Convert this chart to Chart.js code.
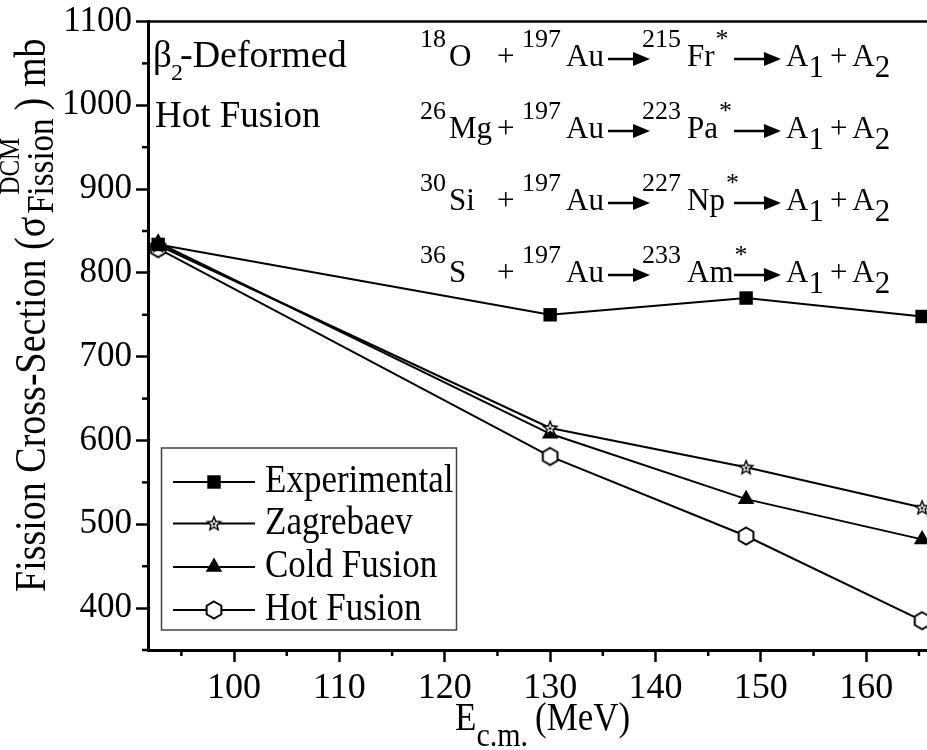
<!DOCTYPE html>
<html>
<head>
<meta charset="utf-8">
<script src="https://cdn.jsdelivr.net/npm/chart.js@4.4.0/dist/chart.umd.min.js"></script>
<style>
  html, body { margin: 0; padding: 0; background: #fff; overflow: hidden; }
  #wrap { width: 960px; height: 750px; position: relative; }
</style>
</head>
<body>
<div id="wrap"><canvas id="c" width="960" height="750"></canvas></div>
<script>
// Centre-of-mass energies (MeV) and fission cross-sections (mb)
const energies     = [92.8, 130.0, 148.6, 165.3];
const experimental = [834, 750, 770, 748];
const zagrebaev    = [833, 615, 568, 520];
const coldFusion   = [836, 608, 530, 482];
const hotFusion    = [829, 581, 486, 385];
const seriesNames  = ['Experimental', 'Zagrebaev', 'Cold Fusion', 'Hot Fusion'];

// Axis ticks
const xTicks      = [100, 110, 120, 130, 140, 150, 160];
const xMinorTicks = [95, 105, 115, 125, 135, 145, 155, 165];
const yTicks      = [400, 500, 600, 700, 800, 900, 1000, 1100];
const yMinorTicks = [350, 450, 550, 650, 750, 850, 950, 1050];

// Reaction labels
const projMass  = ['18', '26', '30', '36'];
const projElem  = ['O', 'Mg', 'Si', 'S'];
const cnMass    = ['215', '223', '227', '233'];
const cnElem    = ['Fr', 'Pa', 'Np', 'Am'];

const FONT = '"Liberation Serif", "Times New Roman", serif';

// ---- custom marker images ----
function makeStar() {
  const s = 20, c = document.createElement('canvas');
  c.width = s; c.height = s;
  const g = c.getContext('2d');
  function star(R, r, fill) {
    g.beginPath();
    for (let i = 0; i < 10; i++) {
      const a = -Math.PI / 2 + i * Math.PI / 5;
      const rad = i % 2 === 0 ? R : r;
      const px = s / 2 + rad * Math.cos(a), py = s / 2 + 0.5 + rad * Math.sin(a);
      i === 0 ? g.moveTo(px, py) : g.lineTo(px, py);
    }
    g.closePath();
    g.fillStyle = fill; g.fill();
  }
  star(9, 4, '#000');
  star(5.2, 2.3, '#fff');
  star(2.2, 1.0, '#000');
  return c;
}
function makeHex() {
  const s = 22, c = document.createElement('canvas');
  c.width = s; c.height = s;
  const g = c.getContext('2d');
  g.beginPath();
  for (let i = 0; i < 6; i++) {
    const a = -Math.PI / 2 + i * Math.PI / 3;
    const px = s / 2 + 8.5 * Math.cos(a), py = s / 2 + 8.5 * Math.sin(a);
    i === 0 ? g.moveTo(px, py) : g.lineTo(px, py);
  }
  g.closePath();
  g.fillStyle = '#fff'; g.fill();
  g.lineWidth = 2; g.strokeStyle = '#000'; g.stroke();
  return c;
}
const starImg = makeStar();
const hexImg = makeHex();

function series(label, values, style, radius) {
  return {
    label,
    data: energies.map((x, i) => ({ x, y: values[i] })),
    borderColor: '#000',
    borderWidth: 2,
    backgroundColor: '#000',
    pointBackgroundColor: '#000',
    pointBorderColor: '#000',
    pointBorderWidth: 0,
    pointStyle: style,
    pointRadius: radius,
    pointHoverRadius: radius,
    tension: 0,
    clip: false
  };
}

const datasets = [
  series(seriesNames[0], experimental, 'rect', 9.5),
  series(seriesNames[1], zagrebaev, starImg, 9),
  series(seriesNames[2], coldFusion, 'triangle', 9.5),
  series(seriesNames[3], hotFusion, hexImg, 9)
];

function drawText(ctx, s, x, y, size, sy) {
  ctx.save();
  ctx.font = size + 'px ' + FONT;
  ctx.textAlign = 'left';
  ctx.textBaseline = 'alphabetic';
  ctx.translate(x, y);
  ctx.scale(1, sy || 1);
  ctx.fillText(s, 0, 0);
  ctx.restore();
  ctx.font = size + 'px ' + FONT;
  return ctx.measureText(s).width;
}

function arrow(ctx, x0, x1, y) {
  ctx.save();
  ctx.strokeStyle = '#000'; ctx.fillStyle = '#000';
  ctx.lineWidth = 2.5;
  ctx.beginPath(); ctx.moveTo(x0, y); ctx.lineTo(x1 - 12, y); ctx.stroke();
  ctx.beginPath();
  ctx.moveTo(x1, y); ctx.lineTo(x1 - 17, y - 7); ctx.lineTo(x1 - 17, y + 7);
  ctx.closePath(); ctx.fill();
  ctx.restore();
}

function drawMarker(ctx, ds, x, y) {
  const st = ds.pointStyle, r = ds.pointRadius;
  ctx.save();
  ctx.fillStyle = '#000';
  if (st === 'rect') {
    const h = Math.SQRT1_2 * r;
    ctx.fillRect(x - h, y - h, 2 * h, 2 * h);
  } else if (st === 'triangle') {
    ctx.beginPath();
    for (let i = 0; i < 3; i++) {
      const a = -Math.PI / 2 + i * 2 * Math.PI / 3;
      const px = x + r * Math.cos(a), py = y + r * Math.sin(a);
      i === 0 ? ctx.moveTo(px, py) : ctx.lineTo(px, py);
    }
    ctx.closePath(); ctx.fill();
  } else {
    ctx.drawImage(st, x - st.width / 2, y - st.height / 2);
  }
  ctx.restore();
}

const extras = {
  id: 'extras',
  afterDraw(chart) {
    const ctx = chart.ctx;
    const xs = chart.scales.x, ys = chart.scales.y;
    const area = chart.chartArea;
    ctx.save();
    ctx.strokeStyle = '#000';
    ctx.lineWidth = 2.5;
    // top frame line
    ctx.beginPath(); ctx.moveTo(area.left, area.top); ctx.lineTo(area.right, area.top); ctx.stroke();
    // minor ticks
    yMinorTicks.forEach(v => {
      const py = ys.getPixelForValue(v);
      ctx.beginPath(); ctx.moveTo(area.left - 6, py); ctx.lineTo(area.left, py); ctx.stroke();
    });
    xMinorTicks.forEach(v => {
      const px = xs.getPixelForValue(v);
      ctx.beginPath(); ctx.moveTo(px, area.bottom); ctx.lineTo(px, area.bottom + 6); ctx.stroke();
    });
    ctx.restore();

    ctx.fillStyle = '#000';
    const SY = 1.15;

    // y-axis title (rotated)
    ctx.save();
    ctx.translate(45, 592);
    ctx.rotate(-Math.PI / 2);
    let p = 0;
    p += drawText(ctx, 'Fission Cross-Section (', p, 0, 38, SY);
    p += drawText(ctx, '\u03C3', p, 0, 38, SY);
    ctx.font = '33px ' + FONT;
    const wSub = ctx.measureText('Fission').width;
    ctx.font = '25px ' + FONT;
    const wSup = ctx.measureText('DCM').width;
    drawText(ctx, 'Fission', p + 3, 8, 33, SY);
    drawText(ctx, 'DCM', p + 3 + (wSub - wSup) / 2, -26, 25, SY);
    p += 3 + wSub + 8;
    drawText(ctx, ')', p, 0, 38, SY);
    drawText(ctx, 'mb', 505, 0, 38, SY);
    ctx.restore();

    // x-axis title
    let q = 455;
    q += drawText(ctx, 'E', q, 730, 35, SY);
    q += drawText(ctx, 'c.m.', q, 746, 30, SY);
    q += 7;
    drawText(ctx, '(MeV)', q, 730, 35, SY);

    // deformation / fusion labels
    drawText(ctx, '\u03B2', 153, 67, 37, 1);
    drawText(ctx, '2', 171, 80, 24, 1);
    drawText(ctx, '-Deformed', 180, 67, 38, 1);
    drawText(ctx, 'Hot Fusion', 155, 127, 37, 1);

    // reaction equations
    for (let i = 0; i < 4; i++) {
      const b = 66 + 72 * i;
      drawText(ctx, projMass[i], 420, b - 19, 26);
      drawText(ctx, projElem[i], 449, b, 31);
      drawText(ctx, '+', 497, b, 31);
      drawText(ctx, '197', 522, b - 19, 26);
      drawText(ctx, 'Au', 566, b, 31);
      arrow(ctx, 608, 650, b - 7);
      drawText(ctx, cnMass[i], 642, b - 19, 26);
      const w = drawText(ctx, cnElem[i], 687, b, 31);
      drawText(ctx, '*', 687 + w + 1, b - 19, 26);
      arrow(ctx, 734, 781, b - 7);
      let a = 786;
      a += drawText(ctx, 'A', a, b, 31);
      a += drawText(ctx, '1', a, b + 11, 31);
      a += 6;
      a += drawText(ctx, '+', a, b, 31);
      a += 5;
      a += drawText(ctx, 'A', a, b, 31);
      drawText(ctx, '2', a, b + 11, 31);
    }

    // legend
    ctx.save();
    ctx.strokeStyle = '#444';
    ctx.lineWidth = 1.5;
    ctx.strokeRect(161.5, 448, 295, 182);
    const rowsY = [482, 523.5, 567, 610];
    chart.data.datasets.forEach((ds, i) => {
      const y = rowsY[i];
      ctx.strokeStyle = '#000'; ctx.lineWidth = 2;
      ctx.beginPath(); ctx.moveTo(173, y); ctx.lineTo(255, y); ctx.stroke();
      drawMarker(ctx, ds, 214, y);
      drawText(ctx, ds.label, 265, y + 10, 35, SY);
    });
    ctx.restore();
  }
};

new Chart(document.getElementById('c'), {
  type: 'line',
  data: { datasets },
  options: {
    responsive: false,
    animation: false,
    devicePixelRatio: 1,
    layout: { padding: { top: 20, right: 20, bottom: 0, left: 0 } },
    plugins: { legend: { display: false }, tooltip: { enabled: false } },
    scales: {
      x: {
        type: 'linear',
        min: 91.835,
        max: 167,
        afterBuildTicks: a => { a.ticks = xTicks.map(v => ({ value: v })); },
        afterFit: a => { a.height = 100; },
        ticks: {
          callback: v => String(v),
          color: '#000',
          font: { family: FONT, size: 36 },
          padding: 5,
          maxRotation: 0,
          autoSkip: false
        },
        grid: { drawOnChartArea: false, drawTicks: true, tickLength: 12, tickWidth: 2.5, tickColor: '#000' },
        border: { display: true, color: '#000', width: 3 }
      },
      y: {
        type: 'linear',
        min: 350,
        max: 1100,
        afterBuildTicks: a => { a.ticks = yTicks.map(v => ({ value: v })); },
        afterFit: a => { a.width = 148; },
        ticks: {
          callback: v => String(v),
          color: '#000',
          font: { family: FONT, size: 35, lineHeight: 1.0 },
          padding: 4,
          autoSkip: false
        },
        grid: { drawOnChartArea: false, drawTicks: true, tickLength: 12, tickWidth: 2.5, tickColor: '#000' },
        border: { display: true, color: '#000', width: 3 }
      }
    }
  },
  plugins: [extras]
});
</script>
</body>
</html>
